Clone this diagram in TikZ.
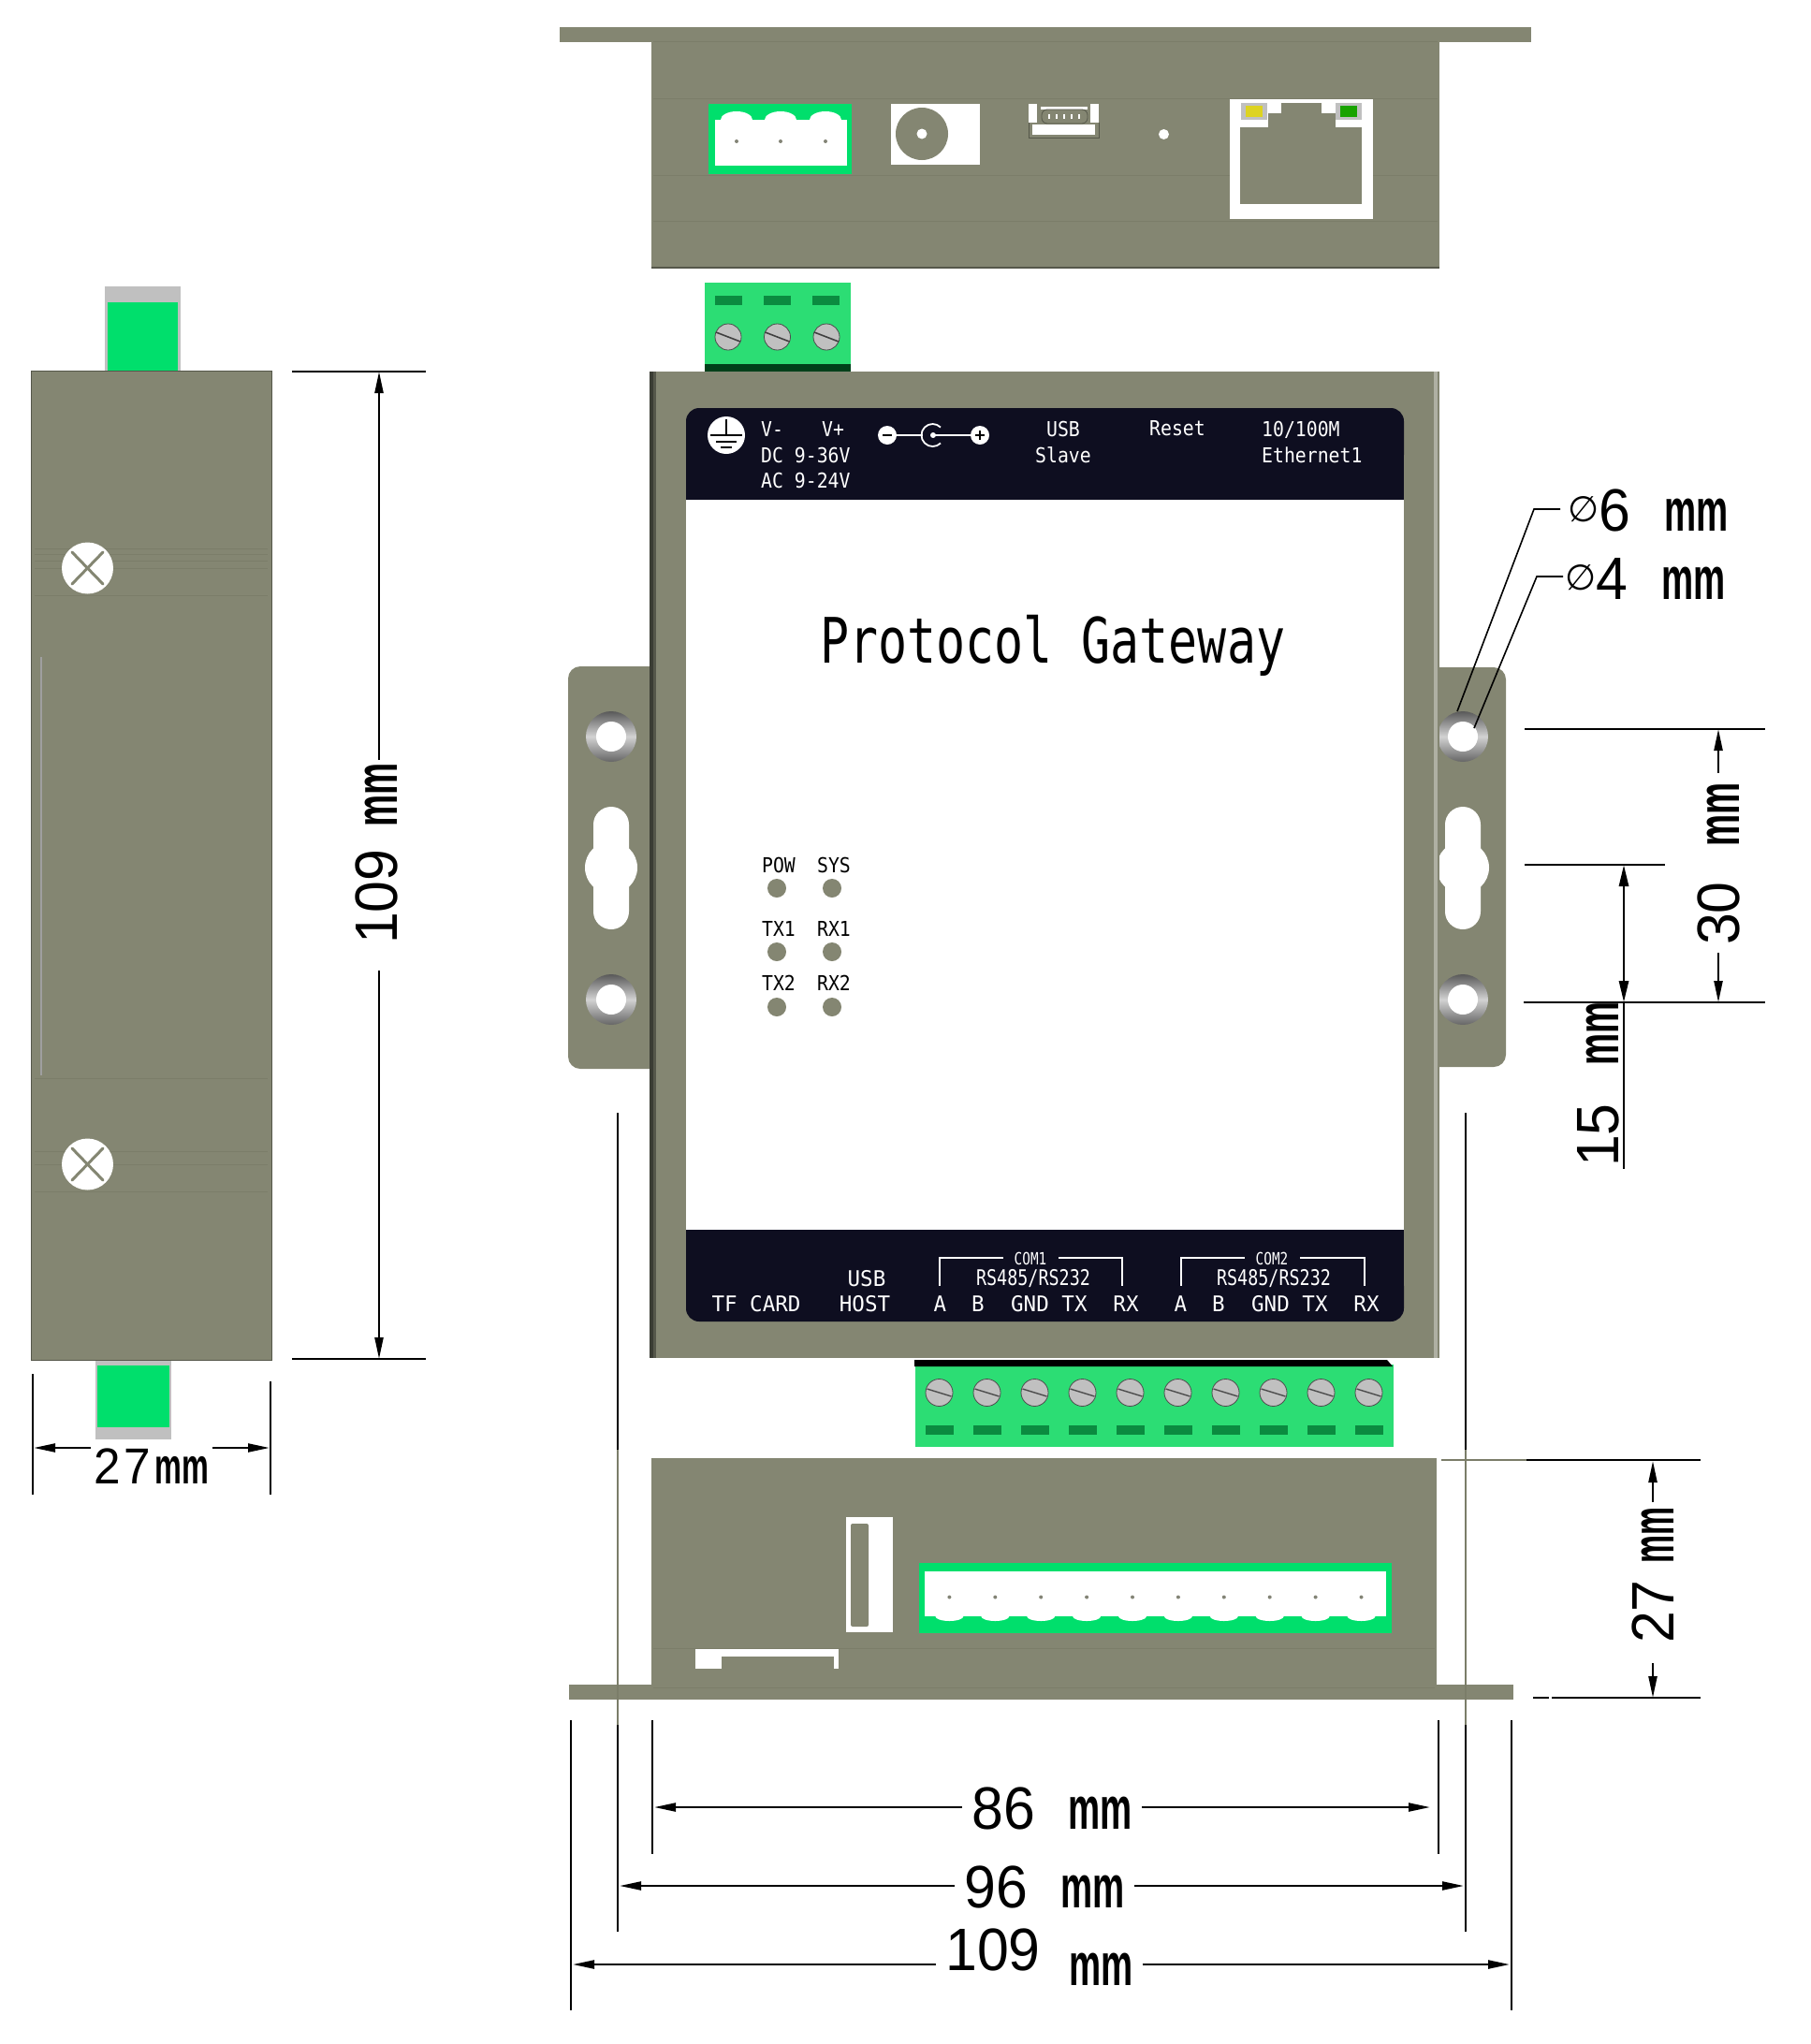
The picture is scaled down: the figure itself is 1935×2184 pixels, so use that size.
\documentclass[tikz,border=0pt]{standalone}
\usepackage{fontspec}
\usepackage{xcolor}
\usetikzlibrary{arrows.meta}
\setmainfont{Liberation Sans}
\newfontfamily\panelfont[FakeStretch=0.9]{DejaVu Sans Mono}
\newfontfamily\railfont[FakeStretch=0.8]{DejaVu Sans Mono}
\newfontfamily\hostfont[FakeStretch=0.98]{DejaVu Sans Mono}
\newfontfamily\titlefont[FakeStretch=0.77]{DejaVu Sans Mono}
\newfontfamily\digitfont[FakeStretch=0.95]{Liberation Sans}
\newfontfamily\unitfont[FakeStretch=0.6]{Liberation Sans}
\newfontfamily\symfont{DejaVu Sans}
\newcommand{\unittext}[1]{{\unitfont\bfseries\fontsize{#1}{#1}\selectfont mm}}
\newcommand{\dimtext}[3]{{\digitfont\fontsize{#1}{#1}\selectfont #2}\hspace{#3}\unittext{#1}}
\newcommand{\diasign}{\raisebox{10pt}{\symfont\fontsize{38}{38}\selectfont ∅}}
\definecolor{olive}{HTML}{848672}
\definecolor{oliveline}{HTML}{7B7D69}
\definecolor{oliveedge}{HTML}{55574A}
\definecolor{plug}{HTML}{00DF6C}
\definecolor{block}{HTML}{2CDD74}
\definecolor{blockslot}{HTML}{0B8B40}
\definecolor{blockdark}{HTML}{00401A}
\definecolor{navy}{HTML}{0E0E20}
\definecolor{screw}{HTML}{C0C0C0}

\begin{document}
\begin{tikzpicture}[x=1pt, y=-1pt]
	\useasboundingbox (0,0) rectangle (1935,2184);

	\tikzset{
	extline/.style = {line width=2pt, black},
	dimarrow/.style = {arrows = {-Stealth[length=23pt, width=9pt, inset=0pt]}, line width=2.3pt, black},
	dimlabel/.style = {inner xsep=10pt, inner ysep=0pt, anchor=base west},
	paneltext/.style = {text=white, inner sep=0pt, font=\panelfont\fontsize{22}{22}\selectfont},
	railtext/.style = {text=white, inner sep=0pt, font=\hostfont\fontsize{23}{23}\selectfont},
	comtext/.style = {text=white, inner sep=0pt, font=\railfont\fontsize{23}{23}\selectfont},
	ledtext/.style = {text=black, inner sep=0pt, font=\panelfont\fontsize{22}{22}\selectfont},
	faint/.style = {oliveline, line width=0.7pt},
	bracket/.style = {white, line width=1.4pt}
	}

	% 顶视图
	\fill[olive] (598,29) rectangle (1636,45);
	\fill[olive] (696,45) rectangle (1538,286);
	\draw[oliveedge, line width=1.2pt] (696,286) -- (1538,286);
	\foreach \fy in {44,105,187,236} \draw[faint] (698,\fy) -- (1536,\fy);
	\fill[plug] (757,111) rectangle (910,186);
	\fill[white] (764,128) rectangle (905,177);
	\foreach \bx in {787,834,882} {
		\fill[white] (\bx,128) ellipse (17 and 9);
		\fill[olive!70!gray] (\bx,151) circle (2);
	}
	\fill[white] (952,111) rectangle (1047,176);
	\fill[olive] (985,143) circle (28);
	\fill[white] (985,143) circle (5.5);
	\draw[oliveedge, line width=0.8pt] (1099,131) -- (1099,147) -- (1174,147) -- (1174,131);
	\fill[white] (1099,111) rectangle (1108,131);
	\fill[white] (1165,111) rectangle (1174,131);
	\fill[white] (1112,114) rectangle (1162,117);
	\fill[white] (1103,133) rectangle (1170,144);
	\draw[oliveedge, line width=0.8pt, rounded corners=6pt] (1113,117) rectangle (1162,132);
	\foreach \px in {1121,1129,1137,1145,1153} \draw[white, line width=1.6pt] (\px,122) -- (\px,127);
	\fill[white] (1243.5,143.5) circle (5.5);
	\fill[white] (1314,106) rectangle (1467,234);
	\fill[olive] (1325,136) rectangle (1455,218);
	\fill[olive] (1355,121) rectangle (1427,136);
	\fill[olive] (1369,110) rectangle (1412,121);
	\fill[screw] (1326,110) rectangle (1354,128);
	\fill[screw] (1427,110) rectangle (1455,128);
	\fill[yellow!85!black] (1331,113) rectangle (1349,125);
	\fill[green!60!black!90!yellow] (1432,113) rectangle (1450,125);

	% 上端子
	\fill[block] (753,302) rectangle (909,390);
	\fill[blockdark] (753,389) rectangle (909,397);
	\foreach \sx/\tx in {778/764,830.5/816,883/868} {
		\fill[blockslot] (\tx,316) rectangle ++(29,10);
		\fill[screw] (\sx,360) circle (14);
		\draw[black!70, line width=0.8pt] (\sx,360) circle (14);
		\draw[black!75, line width=1.6pt] (\sx-13,355) -- (\sx+13,365);
	}

	% 安装耳
	\fill[olive, rounded corners=13pt] (607,712) rectangle (730,1142);
	\fill[olive, rounded corners=13pt] (1510,713) rectangle (1609,1140);
	\foreach \hx in {653,1563} {
		\foreach \hy in {787,1068} {
			\shade[top color=black!65, bottom color=black!60, middle color=gray!35] (\hx,\hy) circle (27);
			\fill[white] (\hx,\hy) circle (16);
		}
		\fill[white, rounded corners=19pt] (\hx-19,862) rectangle (\hx+19,993);
		\fill[white] (\hx,927) circle (28);
	}

	% 主体
	\fill[olive] (694,397) rectangle (1538,1451);
	\fill[oliveedge] (694,397) rectangle (701,1451);
	\fill[oliveedge!70!black] (694,397) rectangle (697.5,1451);
	\fill[olive!65!white] (1532,397) rectangle (1536,1451);
	\fill[white] (733,520) rectangle (1500,1330);
	\fill[navy, rounded corners=14pt] (733,436) rectangle (1500,500);
	\fill[navy] (733,470) rectangle (1500,534);
	\fill[navy, rounded corners=14pt] (733,1360) rectangle (1500,1412);
	\fill[navy] (733,1314) rectangle (1500,1385);

	% 接地符号与电源符号
	\fill[white] (776,465) circle (20);
	\draw[black, line width=2.4pt] (776,448) -- (776,465);
	\draw[black, line width=2.4pt] (759,465) -- (793,465);
	\draw[black, line width=2.4pt] (765,472) -- (787,472);
	\draw[black, line width=2.4pt] (770,478) -- (782,478);
	\fill[white] (948,465) circle (10);
	\fill[white] (1047,465) circle (10);
	\draw[black, line width=2.4pt] (943,465) -- (953,465);
	\draw[black, line width=2.4pt] (1042,465) -- (1052,465);
	\draw[black, line width=2.4pt] (1047,460) -- (1047,470);
	\draw[white, line width=1.8pt] (955,465) -- (986,465);
	\draw[white, line width=1.8pt] (997,465) -- (1040,465);
	\draw[white, line width=1.8pt] (1005,473.5) arc (45:315:12);
	\fill[white] (997,465) circle (3);

	% 上面板文字
	\node[paneltext, anchor=west] (vminus) at (813,458) {V-};
	\node[paneltext, anchor=west] (vplus) at (878,458) {V+};
	\node[paneltext, anchor=west] (dcrange) at (813,486) {DC 9-36V};
	\node[paneltext, anchor=west] (acrange) at (813,513) {AC 9-24V};
	\node[paneltext] (usbslave) at (1136,458) {USB};
	\node[paneltext] (slave) at (1136,486) {Slave};
	\node[paneltext] (reset) at (1258,458) {Reset};
	\node[paneltext, anchor=west] (speed) at (1348,459) {10/100M};
	\node[paneltext, anchor=west] (ether) at (1348,486) {Ethernet1};
	\node[inner sep=0pt, anchor=base west, font=\titlefont\fontsize{67}{67}\selectfont] (title) at (876,708) {Protocol Gateway};

	% 指示灯
	\node[ledtext] (pow) at (832,924) {POW};
	\node[ledtext] (sys) at (891,924) {SYS};
	\node[ledtext] (txa) at (832,992) {TX1};
	\node[ledtext] (rxa) at (891,992) {RX1};
	\node[ledtext] (txb) at (832,1050) {TX2};
	\node[ledtext] (rxb) at (891,1050) {RX2};
	\foreach \ly in {949,1017,1076} {
		\fill[olive] (830,\ly) circle (10);
		\fill[olive] (889,\ly) circle (10);
	}

	% 下面板文字
	\draw[bracket] (1004,1374) -- (1004,1344) -- (1072,1344);
	\draw[bracket] (1131,1344) -- (1199,1344) -- (1199,1374);
	\draw[bracket] (1262,1374) -- (1262,1344) -- (1330,1344);
	\draw[bracket] (1389,1344) -- (1458,1344) -- (1458,1374);
	\node[text=white, inner sep=0pt, font=\railfont\fontsize{18}{18}\selectfont] (coma) at (1101,1345) {COM1};
	\node[text=white, inner sep=0pt, font=\railfont\fontsize{18}{18}\selectfont] (comb) at (1359,1345) {COM2};
	\node[comtext] (rsa) at (1104,1366) {RS485/RS232};
	\node[comtext] (rsb) at (1361,1366) {RS485/RS232};
	\node[railtext] (usbhost) at (926,1366) {USB};
	\node[railtext] (host) at (924,1393) {HOST};
	\node[railtext] (tfcard) at (808,1393) {TF CARD};
	\foreach \cx/\ct in {1004.5/A,1045/B,1100.5/GND,1148/TX,1203/RX,1261.5/A,1302/B,1357.5/GND,1405/TX,1460/RX}
		\node[railtext] at (\cx,1393) {\ct};

	% 下端子
	\fill[block] (978,1458) rectangle (1489,1546);
	\fill[black] (977,1453) -- (1482,1453) -- (1488,1460) -- (977,1460) -- cycle;
	\foreach \i in {0,...,9} {
		\pgfmathsetmacro{\sx}{1003.5+51*\i}
		\fill[screw] (\sx,1488) circle (14.5);
		\draw[black!70, line width=0.8pt] (\sx,1488) circle (14.5);
		\draw[black!70, line width=1.4pt] (\sx-13,1484) -- (\sx+13,1492);
		\fill[blockslot] (\sx-15,1522.5) rectangle (\sx+15,1532.5);
	}

	% 底视图
	\fill[olive] (696,1558) rectangle (1535,1802);
	\fill[olive] (608,1800) rectangle (1617,1816);
	\foreach \fy in {1761,1803} \draw[faint] (698,\fy) -- (1533,\fy);
	\fill[white] (904,1621) rectangle (954,1744);
	\fill[olive, rounded corners=2pt] (909,1628) rectangle (928,1738);
	\fill[plug] (982,1670) rectangle (1487,1745);
	\fill[white] (988,1679) rectangle (1481,1727);
	\foreach \i in {0,...,9} {
		\pgfmathsetmacro{\bx}{1014.4+48.9*\i}
		\fill[white] (\bx,1727) ellipse (15 and 5);
		\fill[olive!70!gray] (\bx,1706.5) circle (2);
	}
	\fill[white] (743,1762) rectangle (896,1783);
	\fill[olive] (771,1770) rectangle (891,1783);

	% 侧视图
	\fill[screw] (112,306) rectangle (193,397);
	\fill[plug] (115,323) rectangle (190,397);
	\fill[screw] (102,1453) rectangle (183,1538);
	\fill[plug] (104,1459) rectangle (181,1525);
	\fill[olive] (33,396) rectangle (290,1453);
	\draw[oliveedge, line width=0.8pt] (33,396) rectangle (290,1453);
	\foreach \fy in {586,592,599,607,636,1152,1230,1244,1273} \draw[faint] (37,\fy) -- (286,\fy);
	\fill[gray!75] (43,702) rectangle (45,1149);
	\foreach \sy in {607,1244} {
		\fill[white] (93.5,\sy) circle (27.5);
		\draw[olive, line width=3pt, line cap=round] (77,\sy-17) -- (110,\sy+17);
		\draw[olive, line width=3pt, line cap=round] (110,\sy-17) -- (77,\sy+17);
	}

	% 左侧尺寸
	\coordinate (sidetop) at (405,397);
	\coordinate (sidebot) at (405,1452);
	\coordinate (sideup) at (405,812);
	\coordinate (sidedown) at (405,1037);
	\draw[extline, line width=2.3pt] (312,397) -- (455,397);
	\draw[extline, line width=2.3pt] (312,1452) -- (455,1452);
	\node[dimlabel, rotate=90] (dim109s) at (424,1019) {\dimtext{64}{109}{24pt}};
	\draw[dimarrow] (sideup) -- (sidetop);
	\draw[dimarrow] (sidedown) -- (sidebot);

	\draw[extline] (35,1468) -- (35,1597);
	\draw[extline] (289,1476) -- (289,1597);
	\node[inner sep=0pt, anchor=base west] (dim27s) at (100,1585) {\dimtext{54}{2\hspace{4pt}7}{4pt}};
	\coordinate (widel) at (36,1547);
	\coordinate (wider) at (288,1547);
	\draw[dimarrow] (97,1547) -- (widel);
	\draw[dimarrow] (227,1547) -- (wider);

	% 右侧尺寸
	\coordinate (holetop) at (1557,760);
	\coordinate (holein) at (1575,778);
	\coordinate (kneea) at (1639,544);
	\coordinate (kneeb) at (1642,616);
	\node[inner sep=0pt, anchor=base west] (dia6) at (1675,567) {\diasign\dimtext{64}{6}{36pt}};
	\node[inner sep=0pt, anchor=base west] (dia4) at (1672,640) {\diasign\dimtext{64}{4}{36pt}};
	\draw[black, line width=1.6pt] (holetop) -- (kneea) -- (1667,544);
	\draw[black, line width=1.6pt] (holein) -- (kneeb) -- (1670,616);

	\draw[extline] (1629,778.5) -- (1886,778.5);
	\draw[extline] (1629,924) -- (1779,924);
	\draw[extline] (1628,1071) -- (1886,1071);
	\node[dimlabel, rotate=90] (dim30) at (1858,1020) {\dimtext{64}{30}{38pt}};
	\draw[dimarrow] (1836,826) -- (1836,779);
	\draw[dimarrow] (1836,1018) -- (1836,1071);
	\draw[arrows = {Stealth[length=23pt, width=10pt, inset=0pt]-Stealth[length=23pt, width=10pt, inset=0pt]}, line width=2.8pt] (1735,924) -- (1735,1071);
	\draw[line width=2.8pt] (1735,1071) -- (1735,1249);
	\node[dimlabel, rotate=90] (dim15) at (1729,1257) {\dimtext{64}{15}{41pt}};

	% 下方引线
	\foreach \vx in {660,1566} {
		\draw[extline] (\vx,1189) -- (\vx,1549);
		\draw[oliveline, line width=2pt] (\vx,1549) -- (\vx,1843);
		\draw[extline] (\vx,1843) -- (\vx,2064);
	}
	\draw[oliveline, line width=2pt] (1540,1560) -- (1631,1560);
	\draw[extline] (1631,1560) -- (1817,1560);
	\draw[extline] (1638,1814) -- (1655,1814);
	\draw[extline] (1658,1814) -- (1817,1814);
	\node[dimlabel, rotate=90] (dim27h) at (1788,1766) {{\digitfont\fontsize{64}{64}\selectfont 27}\hspace{18pt}\scalebox{.88}[1]{\unittext{64}}};
	\draw[dimarrow] (1766,1605) -- (1766,1561);
	\draw[dimarrow] (1766,1777) -- (1766,1814);

	\foreach \vx in {697,1537} \draw[extline] (\vx,1838) -- (\vx,1981);
	\foreach \vx in {610,1615} \draw[extline] (\vx,1838) -- (\vx,2148);

	\node[dimlabel] (dim86) at (1028,1954) {\dimtext{64}{86}{36pt}};
	\draw[dimarrow] (dim86.west |- 0,1931) -- (699,1931);
	\draw[dimarrow] (dim86.east |- 0,1931) -- (1528,1931);
	\node[dimlabel] (dim96) at (1020,2038) {\dimtext{64}{96}{36pt}};
	\draw[dimarrow] (dim96.west |- 0,2015) -- (662,2015);
	\draw[dimarrow] (dim96.east |- 0,2015) -- (1564,2015);
	\node[dimlabel] (dim109) at (1000,2105) {{\digitfont\fontsize{64}{64}\selectfont 109}};
	\node[dimlabel] (dim109mm) at (1132,2121) {\unittext{64}};
	\draw[dimarrow] (dim109.west |- 0,2099) -- (612,2099);
	\draw[dimarrow] (dim109mm.east |- 0,2099) -- (1613,2099);
\end{tikzpicture}
\end{document}
